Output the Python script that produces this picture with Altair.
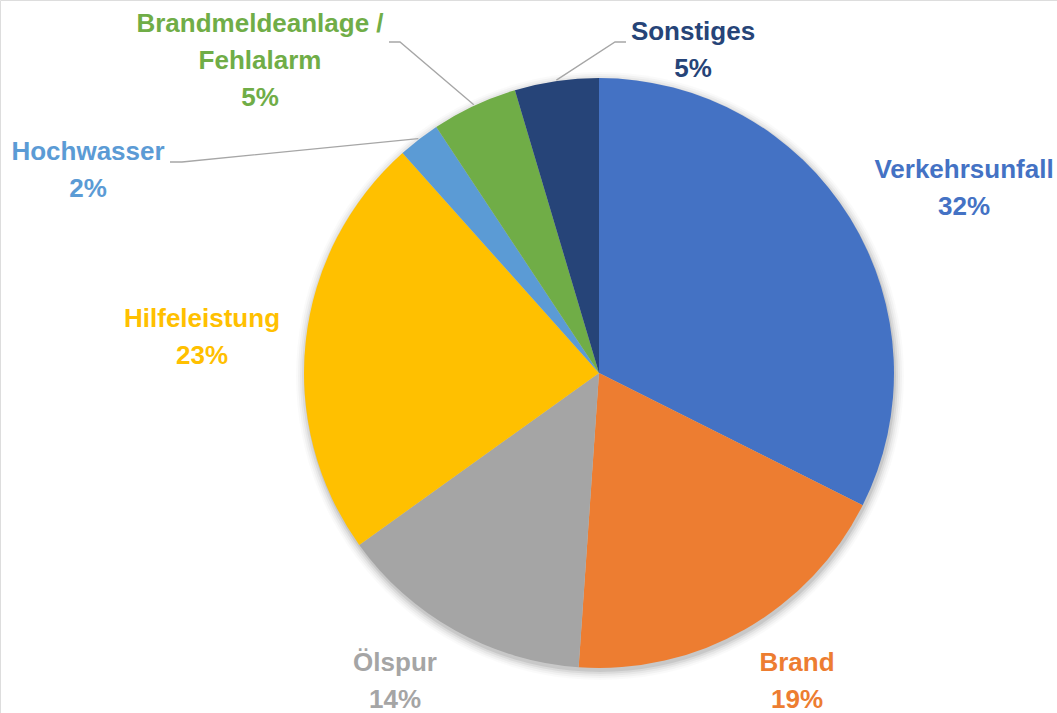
import math
import altair as alt
import pandas as pd

# ---- data ----
categories = ["Verkehrsunfall", "Brand", "Ölspur", "Hilfeleistung",
              "Hochwasser", "Brandmeldeanlage /\nFehlalarm", "Sonstiges"]
shares = [32.4, 18.7, 14.0, 23.3, 2.3, 4.7, 4.6]
colors = ["#4472C4", "#ED7D31", "#A5A5A5", "#FFC000",
          "#5B9BD5", "#70AD47", "#264478"]

# ---- layout ----
W, H = 1057, 713
CX, CY, R = 599, 373, 295
FONT = "Liberation Sans"

# first-line centres of the label blocks, relative to the pie centre
label_offsets = {
    "Verkehrsunfall": (365, -203),
    "Brand": (198, 290),
    "Ölspur": (-204, 290),
    "Hilfeleistung": (-397, -54),
    "Hochwasser": (-511, -221),
    "Brandmeldeanlage /\nFehlalarm": (-339, -349),
    "Sonstiges": (94, -341),
}
# leader line: (kink, end) relative to the pie centre
leaders = {
    "Hochwasser": ((-417, -211), (-429, -211)),
    "Brandmeldeanlage /\nFehlalarm": ((-199, -331), (-210, -331)),
    "Sonstiges": ((16, -331), (27, -331)),
}

total = sum(shares)
pie = pd.DataFrame({"cat": categories, "share": shares, "i": range(len(categories))})

color_scale = alt.Scale(domain=categories, range=colors)

# shadow (soft glow round the pie)
shadow_df = pd.DataFrame({"k": [0]})
shadow_layers = []
for extra, op in [(9, 0.02), (7, 0.03), (5, 0.04), (3, 0.06), (1, 0.08)]:
    shadow_layers.append(
        alt.Chart(shadow_df).mark_arc(color="#000000", opacity=op, radius=R + extra)
        .encode(theta=alt.value(0), theta2=alt.value(2 * math.pi),
                x=alt.value(CX + 1), y=alt.value(CY + 3))
    )

arcs = alt.Chart(pie).mark_arc(radius=R, stroke=None).encode(
    theta=alt.Theta("share:Q", stack=True),
    order=alt.Order("i:Q", sort="ascending"),
    color=alt.Color("cat:N", scale=color_scale, legend=None),
    x=alt.value(CX), y=alt.value(CY),
)

# labels
rows = []
for c, v in zip(categories, shares):
    dx, dy = label_offsets[c]
    rows.append({"cat": c, "txt": f"{c}\n{round(v / total * 100)}%",
                 "x": CX + dx, "y": CY + dy})
labels_df = pd.DataFrame(rows)

labels = alt.Chart(labels_df).mark_text(
    font=FONT, fontWeight="bold", fontSize=26, lineBreak="\n", lineHeight=37,
    align="center", baseline="middle",
).encode(
    x=alt.X("x:Q", scale=None), y=alt.Y("y:Q", scale=None),
    text="txt:N",
    color=alt.Color("cat:N", scale=color_scale, legend=None),
)

# leader lines from the slice rim (mid-angle) to the label
lrows = []
cum = 0.0
for c, v in zip(categories, shares):
    mid = (cum + v / 2) / total * 2 * math.pi
    cum += v
    if c in leaders:
        (kx, ky), (ex, ey) = leaders[c]
        rx = CX + (R + 1) * math.sin(mid)
        ry = CY - (R + 1) * math.cos(mid)
        lrows += [
            {"cat": c, "j": 0, "x": rx, "y": ry},
            {"cat": c, "j": 1, "x": CX + kx, "y": CY + ky},
            {"cat": c, "j": 2, "x": CX + ex, "y": CY + ey},
        ]
lead_df = pd.DataFrame(lrows)
lead = alt.Chart(lead_df).mark_line(color="#A6A6A6", strokeWidth=1.3).encode(
    x=alt.X("x:Q", scale=None), y=alt.Y("y:Q", scale=None),
    detail="cat:N", order="j:Q",
)

chart = alt.layer(*shadow_layers, arcs, lead, labels).properties(
    width=W, height=H, padding=0,
    autosize=alt.AutoSizeParams(type="none"),
).configure_view(stroke=None).configure(background="white")

chart.save("out.html", embed_options={"renderer": "svg", "actions": False})
